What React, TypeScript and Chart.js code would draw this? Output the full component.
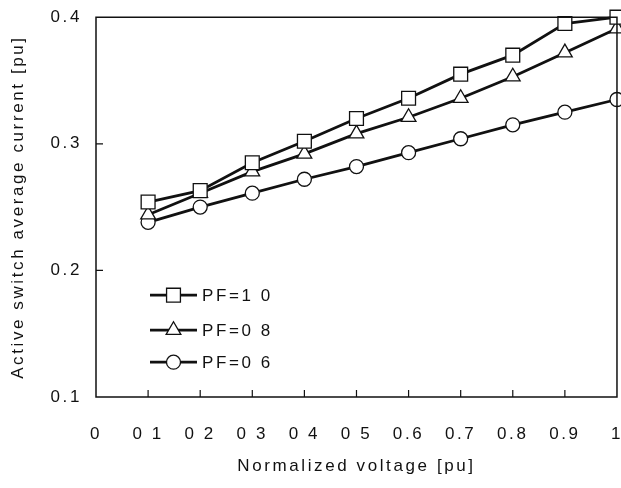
import React, { useEffect, useRef } from "react";
import { Chart, registerables } from "chart.js";

Chart.register(...registerables);

const xValues = [0.1, 0.2, 0.3, 0.4, 0.5, 0.6, 0.7, 0.8, 0.9, 1.0];
const pf10 = [0.254, 0.263, 0.285, 0.302, 0.32, 0.336, 0.355, 0.37, 0.395, 0.4];
const pf08 = [0.244, 0.261, 0.278, 0.292, 0.308, 0.321, 0.336, 0.353, 0.372, 0.391];
const pf06 = [0.238, 0.25, 0.261, 0.272, 0.282, 0.293, 0.304, 0.315, 0.325, 0.335];
const seriesNames = ["PF=1 0", "PF=0 8", "PF=0 6"];
const xTickLabels = ["0", "0 1", "0 2", "0 3", "0 4", "0 5", "0.6", "0.7", "0.8", "0.9", "1"];
const yTickLabels = ["0.1", "0.2", "0.3", "0.4"];
const xTitle = "Normalized voltage [pu]";
const yTitle = "Active switch average current [pu]";

const FONT = "'Liberation Sans', Arial, sans-serif";
const SPACING = "2.6px";

const spacingPlugin = {
  id: "spacing",
  beforeUpdate(chart: any) { chart.ctx.letterSpacing = SPACING; },
  beforeLayout(chart: any) { chart.ctx.letterSpacing = SPACING; },
  beforeDraw(chart: any) { chart.ctx.letterSpacing = SPACING; },
};

const framePlugin = {
  id: "frame",
  afterDatasetsDraw(chart: any) {
    const { ctx, chartArea, scales } = chart;
    const { left, right, top, bottom } = chartArea;
    ctx.save();
    ctx.strokeStyle = "#111";
    ctx.lineWidth = 1.5;
    ctx.beginPath();
    ctx.moveTo(left, top);
    ctx.lineTo(right, top);
    ctx.lineTo(right, bottom);
    ctx.lineTo(left, bottom);
    ctx.closePath();
    ctx.stroke();
    ctx.lineWidth = 1.2;
    ctx.beginPath();
    scales.x.ticks.forEach((t: any) => {
      const px = scales.x.getPixelForValue(t.value);
      if (px <= left + 1 || px >= right - 1) return;
      ctx.moveTo(px, bottom);
      ctx.lineTo(px, bottom - 7);
    });
    scales.y.ticks.forEach((t: any) => {
      const py = scales.y.getPixelForValue(t.value);
      if (py <= top + 1 || py >= bottom - 1) return;
      ctx.moveTo(left, py);
      ctx.lineTo(left + 7, py);
    });
    ctx.stroke();
    ctx.restore();
  },
};

function drawMarker(ctx: CanvasRenderingContext2D, style: string, r: number, x: number, y: number) {
  ctx.beginPath();
  if (style === "rect") {
    const s = r * Math.SQRT1_2;
    ctx.rect(x - s, y - s, 2 * s, 2 * s);
  } else if (style === "triangle") {
    ctx.moveTo(x, y - r);
    ctx.lineTo(x + r * Math.sin(Math.PI / 3), y + r / 2);
    ctx.lineTo(x - r * Math.sin(Math.PI / 3), y + r / 2);
    ctx.closePath();
  } else {
    ctx.arc(x, y, r, 0, Math.PI * 2);
  }
  ctx.fill();
  ctx.stroke();
}

const legendPlugin = {
  id: "innerLegend",
  afterDatasetsDraw(chart: any) {
    const { ctx, chartArea } = chart;
    const x0 = chartArea.left + 54;
    const lineLen = 47;
    const rows = [278, 313, 345];
    ctx.save();
    ctx.letterSpacing = SPACING;
    chart.data.datasets.forEach((ds: any, i: number) => {
      const y = chartArea.top + rows[i];
      ctx.strokeStyle = ds.borderColor;
      ctx.lineWidth = ds.borderWidth;
      ctx.beginPath();
      ctx.moveTo(x0, y);
      ctx.lineTo(x0 + lineLen, y);
      ctx.stroke();
      ctx.fillStyle = ds.pointBackgroundColor;
      ctx.strokeStyle = ds.pointBorderColor;
      ctx.lineWidth = ds.pointBorderWidth;
      drawMarker(ctx, ds.pointStyle, ds.pointRadius, x0 + lineLen / 2, y);
      ctx.fillStyle = "#111";
      ctx.font = `17px ${FONT}`;
      ctx.textBaseline = "middle";
      ctx.textAlign = "left";
      ctx.fillText(ds.label, x0 + lineLen + 5, y + 1);
    });
    ctx.restore();
  },
};

export default function App() {
  const canvasRef = useRef<HTMLCanvasElement | null>(null);

  useEffect(() => {
    const canvas = canvasRef.current;
    if (!canvas) return;
    const mk = (label: string, values: number[], style: string, r: number) => ({
      label,
      data: xValues.map((x, i) => ({ x, y: values[i] })),
      borderColor: "#111",
      borderWidth: 2.8,
      pointStyle: style,
      pointRadius: r,
      pointHoverRadius: r,
      pointBackgroundColor: "#fff",
      pointBorderColor: "#111",
      pointBorderWidth: 1.3,
      fill: false,
      tension: 0,
      clip: false,
    });
    const chart = new Chart(canvas, {
      type: "line",
      data: {
        datasets: [
          mk(seriesNames[0], pf10, "rect", 9.8),
          mk(seriesNames[1], pf08, "triangle", 8.5),
          mk(seriesNames[2], pf06, "circle", 7),
        ],
      },
      options: {
        animation: false,
        responsive: false,
        devicePixelRatio: 1,
        layout: { padding: { left: 0, right: 14, top: 0, bottom: 0 } },
        plugins: { legend: { display: false }, tooltip: { enabled: false } },
        scales: {
          x: {
            type: "linear",
            min: 0,
            max: 1,
            grid: { display: false, drawTicks: false },
            border: { display: false },
            afterFit: (s: any) => { s.height = 91; },
            ticks: {
              stepSize: 0.1,
              padding: 27,
              color: "#111",
              font: { family: FONT, size: 17 },
              maxRotation: 0,
              autoSkip: false,
              callback: (_v: any, i: number) => xTickLabels[i],
            },
            title: {
              display: true,
              text: xTitle,
              color: "#111",
              font: { family: FONT, size: 17 },
              padding: { top: 0, bottom: 11 },
            },
          },
          y: {
            min: 0.1,
            max: 0.4,
            grid: { display: false, drawTicks: false },
            border: { display: false },
            afterFit: (s: any) => { s.width = 96; },
            ticks: {
              stepSize: 0.1,
              padding: 14,
              color: "#111",
              font: { family: FONT, size: 17 },
              callback: (_v: any, i: number) => yTickLabels[i],
            },
            title: {
              display: true,
              text: yTitle,
              color: "#111",
              font: { family: FONT, size: 17 },
              padding: { top: 8, bottom: 0 },
            },
          },
        },
      },
      plugins: [spacingPlugin, framePlugin, legendPlugin],
    } as any);
    return () => chart.destroy();
  }, []);

  return (
    <div style={{ position: "fixed", left: 0, top: 0, width: 621, height: 488, overflow: "hidden", background: "#fff" }}>
      <canvas ref={canvasRef} width={650} height={495} style={{ width: 650, height: 495, display: "block", marginTop: -7 }} />
    </div>
  );
}
